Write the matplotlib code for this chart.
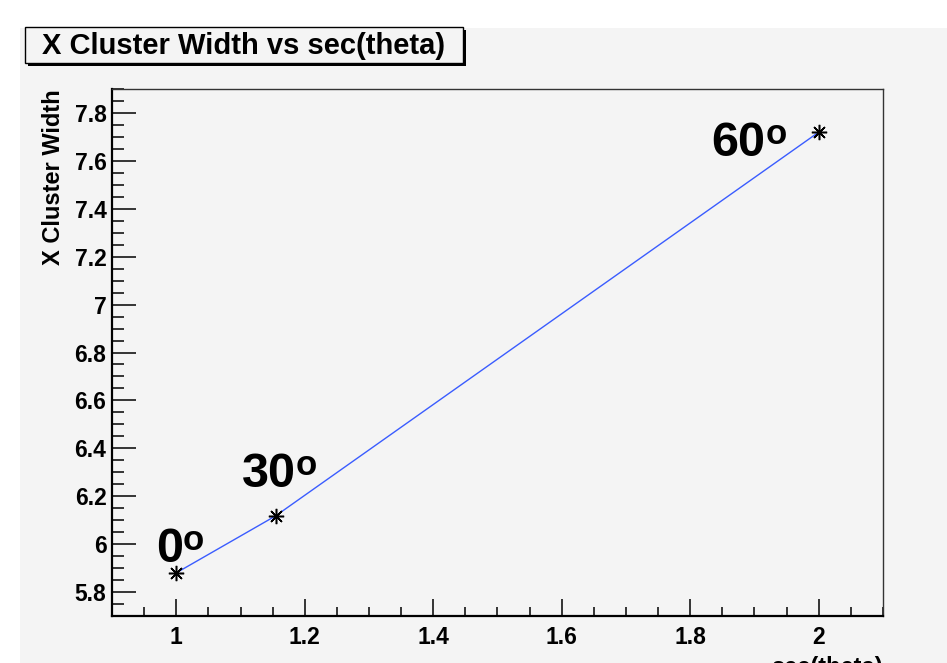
import matplotlib.pyplot as plt
from matplotlib.patches import Rectangle
from matplotlib.ticker import MultipleLocator

plt.rcParams['font.family'] = ['Liberation Sans', 'DejaVu Sans']
plt.rcParams['font.weight'] = 'bold'

# sec(theta) for 0, 30 and 60 degrees, and the measured width
angles = ['0', '30', '60']
sec_theta = [1.0, 1.1547, 2.0]
width = [5.88, 6.118, 7.72]

W, H = 947, 663
canvas = '#f4f4f4'

fig = plt.figure(figsize=(W / 100, H / 100), dpi=100, facecolor='white')

# grey pad behind everything, like a ROOT canvas
fig.patches.append(Rectangle((20 / W, 0), 1, 1 - 28 / H, transform=fig.transFigure,
                             facecolor=canvas, edgecolor='none', zorder=-5))

# title box with a drop shadow
def px_box(x0, y0, x1, y1, **kw):
	return Rectangle((x0 / W, 1 - y1 / H), (x1 - x0) / W, (y1 - y0) / H,
	                 transform=fig.transFigure, **kw)

fig.patches.append(px_box(28, 30, 466, 66, facecolor='black', edgecolor='none', zorder=1))
fig.patches.append(px_box(25, 27, 463, 63, facecolor=canvas, edgecolor='black',
                          linewidth=1.0, zorder=2))
fig.text(244 / W, 1 - 46 / H, 'X Cluster Width vs sec(theta)', ha='center', va='center',
         fontsize=21, fontweight='bold', zorder=3)

ax = fig.add_axes([112 / W, 1 - 616 / H, 771 / W, 527 / H])
ax.set_facecolor(canvas)

ax.plot(sec_theta, width, color='#3a5cff', linewidth=1.0, zorder=3)
ax.plot(sec_theta, width, linestyle='none', marker=(8, 2, 0), markersize=11,
        markeredgecolor='black', markeredgewidth=1.1, zorder=4)

ax.set_xlim(0.9, 2.1)
ax.set_ylim(5.7, 7.9)
ax.xaxis.set_minor_locator(MultipleLocator(0.05))
ax.yaxis.set_minor_locator(MultipleLocator(0.05))
ax.set_xticks([1, 1.2, 1.4, 1.6, 1.8, 2])
ax.set_xticklabels(['1', '1.2', '1.4', '1.6', '1.8', '2'])
ax.set_yticks([5.8, 6, 6.2, 6.4, 6.6, 6.8, 7, 7.2, 7.4, 7.6, 7.8])
ax.set_yticklabels(['5.8', '6', '6.2', '6.4', '6.6', '6.8', '7', '7.2', '7.4', '7.6', '7.8'])

ax.tick_params(axis='both', which='both', direction='in', top=False, right=False,
               width=1.1, color='black', labelsize=16.5)
ax.tick_params(axis='y', which='major', length=17, pad=4)
ax.tick_params(axis='y', which='minor', length=8.6)
ax.tick_params(axis='x', which='major', length=12, pad=7)
ax.tick_params(axis='x', which='minor', length=6.5)
for lab in ax.get_xticklabels() + ax.get_yticklabels():
	lab.set_fontweight('bold')

for side in ('left', 'bottom'):
	ax.spines[side].set_linewidth(1.6)
	ax.spines[side].set_color('black')
for side in ('top', 'right'):
	ax.spines[side].set_linewidth(1.0)
	ax.spines[side].set_color('#333333')

ax.set_xlabel('sec(theta)', loc='right', fontsize=17, fontweight='bold', labelpad=5)
ax.set_ylabel('X Cluster Width', loc='top', fontsize=17, fontweight='bold', labelpad=7)

# angle labels: big digits plus a raised "o"
label_pos = [(0.968, 5.925), (1.102, 6.238), (1.833, 7.62)]
for ang, (lx, ly) in zip(angles, label_pos):
	t = ax.text(lx, ly, ang, ha='left', va='baseline', fontsize=35, fontweight='bold')
	ax.annotate('o', xy=(1, ly), xycoords=(t, 'data'), xytext=(0, 12),
	            textcoords='offset pixels', ha='left', va='baseline',
	            fontsize=25, fontweight='bold')

fig.savefig('out.png', dpi=100, facecolor='white')
